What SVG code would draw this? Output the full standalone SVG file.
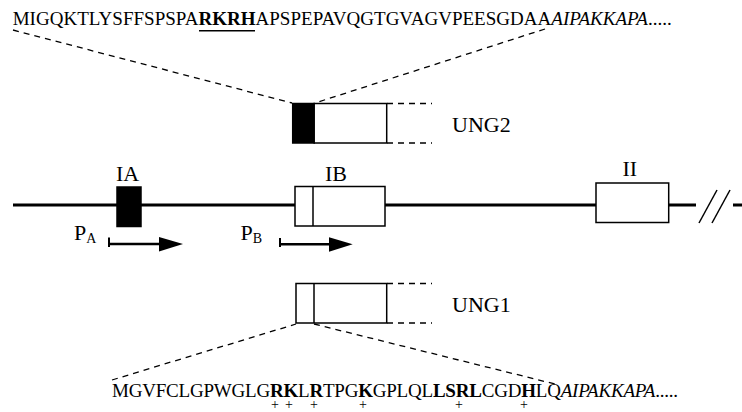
<svg xmlns="http://www.w3.org/2000/svg" width="742" height="412" viewBox="0 0 742 412">
<style>
.seq{font-family:"Liberation Serif","Times New Roman",serif;font-size:19px;fill:#000}
.lbl{font-family:"Liberation Serif","Times New Roman",serif;font-size:22px;fill:#000}
.sub{font-family:"Liberation Serif","Times New Roman",serif;font-size:14px;fill:#000}
.pl{font-family:"Liberation Serif","Times New Roman",serif;font-size:14px;fill:#000;text-anchor:middle}
.b{font-weight:bold}
.i{font-style:italic}
.box{fill:#fff;stroke:#000;stroke-width:1.5}
.blk{fill:#000;stroke:#000;stroke-width:1.5}
.dash{fill:none;stroke:#000;stroke-width:1.3;stroke-dasharray:6,5}
.thin{fill:none;stroke:#000;stroke-width:1.5}
</style>
<rect width="742" height="412" fill="#fff"/>
<g id="connectors">
  <line x1="13" y1="205" x2="696" y2="205" stroke="#000" stroke-width="3"/>
  <line x1="733" y1="205" x2="742" y2="205" stroke="#000" stroke-width="3"/>
  <line x1="699" y1="223" x2="717" y2="190" class="thin"/>
  <line x1="712" y1="223" x2="730" y2="190" class="thin"/>
  <line x1="13" y1="30" x2="292" y2="103" class="dash"/>
  <line x1="545" y1="29" x2="315" y2="103" class="dash"/>
  <line x1="112" y1="380" x2="296" y2="324" class="dash"/>
  <line x1="314" y1="324" x2="555" y2="384" class="dash"/>
  <line x1="387" y1="103.5" x2="432" y2="103.5" class="dash"/>
  <line x1="387" y1="143" x2="432" y2="143" class="dash"/>
  <line x1="387" y1="283.5" x2="432" y2="283.5" class="dash"/>
  <line x1="387" y1="323" x2="432" y2="323" class="dash"/>
</g>
<g id="seq-top">
  <text class="seq" x="12.7" y="25" textLength="659" lengthAdjust="spacing">MIGQKTLYSFFSPSPA<tspan class="b">RKRH</tspan>APSPEPAVQGTGVAGVPEESGDAA<tspan class="i">AIPAKKAPA</tspan>.....</text>
  <line x1="199" y1="30.8" x2="255" y2="30.8" stroke="#000" stroke-width="1.4"/>
</g>
<g id="ung2">
  <rect class="blk" x="292.7" y="103.5" width="21.5" height="39.5"/>
  <rect class="box" x="314.2" y="103.5" width="72.5" height="39.5"/>
  <text class="lbl" x="452" y="132">UNG2</text>
</g>
<g id="exonIA">
  <rect class="blk" x="117" y="187" width="24" height="39.5"/>
  <text class="lbl" x="116" y="180.5">IA</text>
</g>
<g id="exonIB">
  <rect class="box" x="295" y="186.5" width="90" height="39.5"/>
  <line x1="313" y1="186.5" x2="313" y2="226" class="thin"/>
  <text class="lbl" x="325" y="180.5">IB</text>
</g>
<g id="exonII">
  <rect class="box" x="596" y="183" width="72.7" height="39.5"/>
  <text class="lbl" x="622.5" y="176">II</text>
</g>
<g id="promoterA">
  <text class="lbl" x="74" y="240">P<tspan class="sub" dy="3">A</tspan></text>
  <line x1="109" y1="237.5" x2="109" y2="247" stroke="#000" stroke-width="2"/>
  <line x1="109" y1="244" x2="162" y2="244" stroke="#000" stroke-width="2.5"/>
  <polygon points="159,237 183,244 159,251.5" fill="#000"/>
</g>
<g id="promoterB">
  <text class="lbl" x="240.5" y="240">P<tspan class="sub" dy="3">B</tspan></text>
  <line x1="280" y1="238" x2="280" y2="247" stroke="#000" stroke-width="2"/>
  <line x1="280" y1="244.3" x2="332" y2="244.3" stroke="#000" stroke-width="2.5"/>
  <polygon points="329,237.3 352.7,244.3 329,251.8" fill="#000"/>
</g>
<g id="ung1">
  <rect class="box" x="296" y="283.5" width="90.7" height="39.5"/>
  <line x1="314" y1="283.5" x2="314" y2="323" class="thin"/>
  <text class="lbl" x="452" y="312">UNG1</text>
</g>
<g id="seq-bottom">
  <text class="seq" x="112" y="397" textLength="566" lengthAdjust="spacing">MGVFCLGPWGLG<tspan class="b">RK</tspan>L<tspan class="b">R</tspan>TPG<tspan class="b">K</tspan>GPLQL<tspan class="b">LSRL</tspan>CGD<tspan class="b">H</tspan>LQ<tspan class="i">AIPAKKAPA</tspan>.....</text>
  <text class="pl" x="275" y="409">+</text>
  <text class="pl" x="289" y="409">+</text>
  <text class="pl" x="314" y="409">+</text>
  <text class="pl" x="363" y="409">+</text>
  <text class="pl" x="459" y="409">+</text>
  <text class="pl" x="524" y="409">+</text>
</g>
</svg>
